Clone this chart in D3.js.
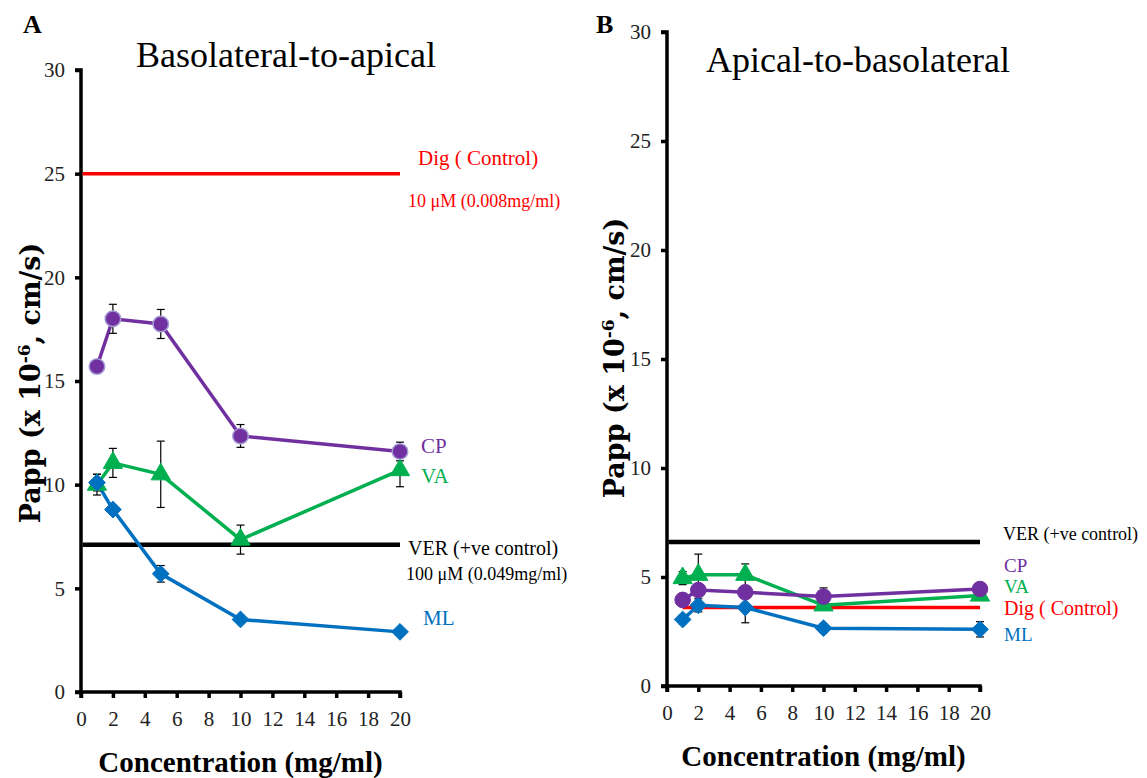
<!DOCTYPE html>
<html>
<head>
<meta charset="utf-8">
<script src="https://cdn.jsdelivr.net/npm/d3@7"></script>
<style>
  html, body { margin: 0; padding: 0; background: #fff; }
  svg { display: block; }
  text { font-family: "Liberation Serif", "DejaVu Serif", serif; }
</style>
</head>
<body>
<svg id="chart" width="1147" height="778"></svg>
<script>
// Concentrations tested (mg/ml)
const concentrations = [1, 2, 5, 10, 20];
const xTicks = [0, 2, 4, 6, 8, 10, 12, 14, 16, 18, 20];
const yTicks = [0, 5, 10, 15, 20, 25, 30];

// Basolateral-to-apical Papp (x 10^-6 cm/s)
const cpBA = [15.7, 18.0, 17.75, 12.35, 11.6];
const cpBAErr = [0.3, 0.7, 0.7, 0.55, 0.45];
const vaBA = [10.0, 11.05, 10.5, 7.35, 10.7];
const vaBAErr = [0.5, 0.7, 1.6, 0.7, 0.8];
const mlBA = [10.1, 8.8, 5.7, 3.5, 2.9];
const mlBAErr = [0.4, 0.2, 0.4, 0.15, 0.15];
const digBA = 25.0;
const verBA = 7.1;

// Apical-to-basolateral Papp (x 10^-6 cm/s)
const cpAB = [3.95, 4.4, 4.3, 4.1, 4.45];
const cpABErr = [0.2, 0.2, 0.2, 0.4, 0.2];
const vaAB = [4.95, 5.1, 5.1, 3.7, 4.15];
const vaABErr = [0.3, 0.95, 0.5, 0.2, 0.2];
const mlAB = [3.05, 3.7, 3.6, 2.65, 2.6];
const mlABErr = [0.2, 0.3, 0.7, 0.2, 0.35];
const digAB = 3.6;
const verAB = 6.6;

const colors = { CP: "#7030A0", VA: "#00B050", ML: "#0070C0", Dig: "#FF0000", VER: "#000000" };

// square diamond (a square turned 45 degrees)
const wideDiamond = {
  draw(ctx, size) {
    const r = Math.sqrt(size / 2);
    ctx.moveTo(0, -r); ctx.lineTo(r, 0); ctx.lineTo(0, r); ctx.lineTo(-r, 0); ctx.closePath();
  }
};

const svg = d3.select("#chart");

function drawPanel(p) {
  const x = d3.scaleLinear().domain([0, 20]).range([p.left, p.right]);
  const y = d3.scaleLinear().domain([0, 30]).range([p.bottom, p.top]);
  const g = svg.append("g");

  // axes
  const yAxis = g.append("g").attr("transform", `translate(${p.left},0)`)
    .call(d3.axisLeft(y).tickValues(yTicks).tickSize(6).tickPadding(10));
  const xAxis = g.append("g").attr("transform", `translate(0,${p.bottom})`)
    .call(d3.axisBottom(x).tickValues(xTicks).tickSize(6).tickPadding(13));
  [yAxis, xAxis].forEach(a => {
    a.select(".domain").attr("stroke", "#000").attr("stroke-width", 3.5);
    a.selectAll(".tick line").attr("stroke", "#000").attr("stroke-width", 3.5);
    a.selectAll(".tick text").attr("fill", "#222").style("font-size", "21px")
      .style("font-family", "'Liberation Serif', serif");
  });
  yAxis.select(".domain").attr("d", `M-6,${y(30)}H0V${y(0)}H-6`);
  xAxis.select(".domain").attr("d", `M${x(0)},6V0H${x(20)}V6`);

  // control reference lines
  g.append("line").attr("x1", x(p.digFrom)).attr("x2", x(20))
    .attr("y1", y(p.dig)).attr("y2", y(p.dig))
    .attr("stroke", colors.Dig).attr("stroke-width", 3.5);
  g.append("line").attr("x1", x(0.1)).attr("x2", x(20))
    .attr("y1", y(p.ver)).attr("y2", y(p.ver))
    .attr("stroke", colors.VER).attr("stroke-width", 4.5);

  const line = d3.line().x(d => x(d.c)).y(d => y(d.v));
  const series = [
    { key: "VA", vals: p.va, err: p.vaErr, shape: d3.symbolTriangle, size: 160 },
    { key: "ML", vals: p.ml, err: p.mlErr, shape: wideDiamond, size: 140 },
    { key: "CP", vals: p.cp, err: p.cpErr, shape: d3.symbolCircle, size: 190 }
  ];
  series.forEach(s => {
    const pts = concentrations.map((c, i) => ({ c, v: s.vals[i], e: s.err[i] }));
    g.append("path").datum(pts).attr("d", line).attr("fill", "none")
      .attr("stroke", colors[s.key]).attr("stroke-width", 3.5);
  });
  // error bars
  series.forEach(s => {
    const pts = concentrations.map((c, i) => ({ c, v: s.vals[i], e: s.err[i] }));
    const eb = g.append("g").selectAll("g").data(pts).join("g");
    eb.append("line").attr("x1", d => x(d.c)).attr("x2", d => x(d.c))
      .attr("y1", d => y(d.v - d.e)).attr("y2", d => y(d.v + d.e))
      .attr("stroke", "#000").attr("stroke-width", 1.2);
    [-1, 1].forEach(sg => {
      eb.append("line").attr("x1", d => x(d.c) - 4).attr("x2", d => x(d.c) + 4)
        .attr("y1", d => y(d.v + sg * d.e)).attr("y2", d => y(d.v + sg * d.e))
        .attr("stroke", "#000").attr("stroke-width", 1.2);
    });
  });
  // markers
  series.forEach(s => {
    const pts = concentrations.map((c, i) => ({ c, v: s.vals[i] }));
    g.append("g").selectAll("path").data(pts).join("path")
      .attr("d", d3.symbol().type(s.shape).size(s.size))
      .attr("transform", d => `translate(${x(d.c)},${y(d.v)})`)
      .attr("fill", colors[s.key])
      .attr("stroke", s.key === "CP" && p.halo ? "#a79bd6" : colors[s.key])
      .attr("stroke-width", s.key === "CP" && p.halo ? 1.5 : 1);
  });

  // series / control labels
  p.labels.forEach(l => {
    g.append("text").attr("x", l.x).attr("y", l.y).text(l.text)
      .attr("fill", colors[l.key]).style("font-size", l.size + "px");
  });

  // titles
  g.append("text").attr("x", p.titleX).attr("y", p.titleY).attr("text-anchor", "middle")
    .style("font-size", "36px").attr("fill", "#000").text(p.title);
  g.append("text").attr("x", p.letterX).attr("y", 33).style("font-size", "26px")
    .style("font-weight", "bold").attr("fill", "#000").text(p.letter);

  // axis titles
  g.append("text").attr("x", (p.left + p.right) / 2).attr("y", p.bottom + 80)
    .attr("text-anchor", "middle").style("font-size", "29px").style("font-weight", "bold")
    .attr("fill", "#000").text("Concentration (mg/ml)");
  const yl = g.append("text")
    .attr("transform", `translate(${p.yLabelX},${p.yLabelY}) rotate(-90)`)
    .attr("text-anchor", "middle").style("font-size", "27px").style("font-weight", "bold")
    .style("font-family", "'DejaVu Serif', serif")
    .attr("fill", "#000");
  yl.append("tspan").text("Papp (x 10");
  yl.append("tspan").attr("dy", -10).style("font-size", "17px").text("-6");
  yl.append("tspan").attr("dy", 10).text(", cm/s)");
}

drawPanel({
  left: 81, right: 400, top: 70, bottom: 692,
  cp: cpBA, cpErr: cpBAErr, va: vaBA, vaErr: vaBAErr, ml: mlBA, mlErr: mlBAErr,
  dig: digBA, ver: verBA, digFrom: 0.1, halo: true,
  title: "Basolateral-to-apical", titleX: 286, titleY: 67, letter: "A", letterX: 23,
  yLabelX: 40, yLabelY: 383,
  labels: [
    { key: "Dig", text: "Dig ( Control)", x: 418, y: 165, size: 21 },
    { key: "Dig", text: "10 \u03bcM (0.008mg/ml)", x: 408, y: 207, size: 18 },
    { key: "CP", text: "CP", x: 421, y: 453, size: 21 },
    { key: "VA", text: "VA", x: 421, y: 483, size: 21 },
    { key: "VER", text: "VER (+ve control)", x: 408, y: 555, size: 20 },
    { key: "VER", text: "100 \u03bcM (0.049mg/ml)", x: 406, y: 580, size: 18 },
    { key: "ML", text: "ML", x: 423, y: 625, size: 21 }
  ]
});

drawPanel({
  left: 667, right: 980, top: 32, bottom: 686,
  cp: cpAB, cpErr: cpABErr, va: vaAB, vaErr: vaABErr, ml: mlAB, mlErr: mlABErr,
  dig: digAB, ver: verAB, digFrom: 1, halo: false,
  title: "Apical-to-basolateral", titleX: 858, titleY: 72, letter: "B", letterX: 596,
  yLabelX: 624, yLabelY: 358,
  labels: [
    { key: "VER", text: "VER (+ve control)", x: 1003, y: 540, size: 18 },
    { key: "CP", text: "CP", x: 1004, y: 572, size: 19 },
    { key: "VA", text: "VA", x: 1004, y: 593, size: 19 },
    { key: "Dig", text: "Dig ( Control)", x: 1004, y: 615, size: 20 },
    { key: "ML", text: "ML", x: 1004, y: 641, size: 19 }
  ]
});
</script>
</body>
</html>
